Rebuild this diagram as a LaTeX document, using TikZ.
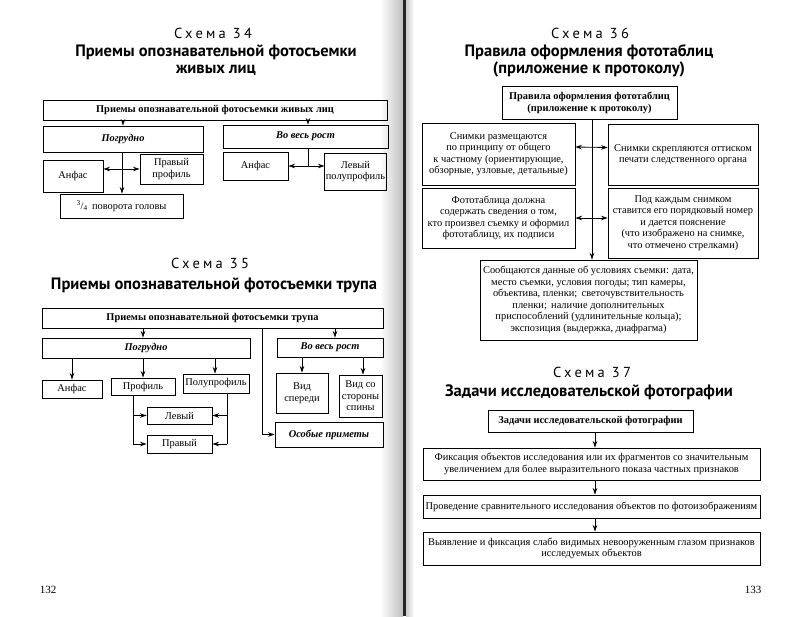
\documentclass[tikz,border=0pt]{standalone}
\usepackage{fontspec}
\setmainfont{Liberation Serif}
\newfontfamily\headfont{PT Sans}
\newfontfamily\schemefont[LetterSpace=22]{PT Sans}
\usepackage{tikz}
\usetikzlibrary{arrows.meta,positioning,shapes}

\begin{document}
\begin{tikzpicture}[
    x=1pt, y=-1pt,
    box/.style={rectangle, draw, line width=0.9pt, inner sep=1pt, align=center, font=\fontsize{10.4}{11.5}\selectfont},
    rootbox/.style={box, font=\fontsize{10.4}{12}\selectfont\bfseries},
    subbox/.style={box, font=\fontsize{10.4}{11.5}\selectfont\bfseries\itshape},
    schemelabel/.style={font=\fontsize{14.5}{16}\selectfont\schemefont},
    title/.style={align=center, font=\fontsize{16.5}{16.5}\selectfont\headfont\bfseries},
    pagenum/.style={font=\fontsize{11}{12}\selectfont},
    arrow/.style={-{Stealth[length=6.5pt,width=4.5pt]}, line width=0.8pt},
    darrow/.style={{Stealth[length=6.5pt,width=4.5pt]}-{Stealth[length=6.5pt,width=4.5pt]}, line width=0.8pt},
    line/.style={line width=0.8pt}
]
\useasboundingbox (0,0) rectangle (800,616);

% Book spine
\shade[left color=white, right color=black!25] (380,0) rectangle (403,616);
\fill[black!85] (403,0) rectangle (406,616);
\shade[left color=black!20, right color=white] (406,0) rectangle (414,616);

% ---------------- Scheme 34 ----------------
\node[schemelabel] (s34) at (213,33) {Схема 34};
\node[title] (t34) at (216,60) {Приемы опознавательной фотосъемки\\живых лиц};

\node[rootbox, minimum width=344, minimum height=20] (r34) at (215,110) {Приемы опознавательной фотосъемки живых лиц};
\node[subbox, minimum width=160, minimum height=26] (pog34) at (123,139) {Погрудно};
\node[subbox, minimum width=165, minimum height=23] (full34) at (305.5,136.5) {Во весь рост};
\node[box, minimum width=60, minimum height=32] (anf34a) at (73,176) {Анфас};
\node[box, minimum width=63, minimum height=30] (prav34) at (171.5,169) {Правый\\профиль};
\node[box, minimum width=123, minimum height=24] (rot34) at (121.5,206) {\textsuperscript{3}/\textsubscript{4}\, поворота головы};
\node[box, minimum width=65, minimum height=28] (anf34b) at (255.5,166) {Анфас};
\node[box, minimum width=55, minimum height=37] (lev34) at (355.5,171.5) {Левый\\полупрофиль};
\coordinate (j34) at (308,166);

\draw[arrow] (r34.south -| 123,0) -- (pog34.north -| 123,0);
\draw[arrow] (r34.south -| 308,0) -- (full34.north -| 308,0);
\draw[arrow] (pog34.south -| 122,0) -- (rot34.north -| 122,0);
\draw[darrow] (anf34a.east |- prav34.west) -- (prav34.west);
\draw[line] (full34.south -| j34) -- (j34);
\draw[darrow] (anf34b.east) -- (anf34b.east -| lev34.west);

% ---------------- Scheme 35 ----------------
\node[schemelabel] (s35) at (210,263) {Схема 35};
\node[title] (t35) at (214,285) {Приемы опознавательной фотосъемки трупа};

\node[rootbox, minimum width=341, minimum height=20] (r35) at (212.5,318) {Приемы опознавательной фотосъемки трупа};
\node[subbox, minimum width=208, minimum height=20] (pog35) at (146,348) {Погрудно};
\node[subbox, minimum width=106, minimum height=19] (full35) at (330,347.5) {Во весь рост};
\node[box, minimum width=60, minimum height=18] (anf35) at (72,389) {Анфас};
\node[box, minimum width=64, minimum height=17] (prof35) at (143,386.5) {Профиль};
\node[box, minimum width=66, minimum height=19] (poly35) at (216,383.5) {Полупрофиль};
\node[box, minimum width=65, minimum height=17] (lev35) at (179.5,415.5) {Левый};
\node[box, minimum width=65, minimum height=18] (prv35) at (179.5,444) {Правый};
\node[box, minimum width=52, minimum height=40] (front35) at (302,393) {Вид\\спереди};
\node[box, minimum width=43, minimum height=42] (back35) at (360.5,396) {Вид со\\стороны\\спины};
\node[subbox, minimum width=108, minimum height=25] (spec35) at (329,434.5) {Особые приметы};
\coordinate (jspec) at (262,434.5);
\coordinate (jprof) at (133,444);
\coordinate (jpoly) at (227,444);

\draw[arrow] (r35.south -| 143,0) -- (pog35.north -| 143,0);
\draw[arrow] (r35.south -| 335,0) -- (full35.north -| 335,0);
\draw[arrow] (r35.south -| jspec) -- (jspec) -- (spec35.west);
\draw[arrow] (pog35.south -| anf35.north) -- (anf35.north);
\draw[arrow] (pog35.south -| prof35.north) -- (prof35.north);
\draw[arrow] (pog35.south -| 215,0) -- (poly35.north -| 215,0);
\draw[line] (prof35.south -| jprof) -- (jprof);
\draw[arrow] (jprof |- lev35.west) -- (lev35.west);
\draw[arrow] (jprof) -- (prv35.west);
\draw[line] (poly35.south -| jpoly) -- (jpoly);
\draw[arrow] (jpoly |- lev35.east) -- (lev35.east);
\draw[arrow] (jpoly) -- (prv35.east);
\draw[arrow] (full35.south -| front35.north) -- (front35.north);
\draw[arrow] (full35.south -| 363,0) -- (back35.north -| 363,0);

\node[pagenum] (p132) at (48,590) {132};

% ---------------- Scheme 36 ----------------
\node[schemelabel] (s36) at (590,33) {Схема 36};
\node[title] (t36) at (589,61) {Правила оформления фототаблиц\\(приложение к протоколу)};

\node[rootbox, minimum width=175, minimum height=33] (r36) at (589.5,102.5) {Правила оформления фототаблиц\\(приложение к протоколу)};
\node[box, minimum width=153, minimum height=62] (a36) at (498.5,154) {Снимки размещаются\\по принципу от общего\\к частному (ориентирующие,\\обзорные, узловые, детальные)};
\node[box, minimum width=150, minimum height=61] (b36) at (683,154.5) {Снимки скрепляются оттиском\\печати следственного органа};
\node[box, minimum width=153, minimum height=60] (c36) at (498.5,218) {Фототаблица должна\\содержать сведения о том,\\кто произвел съемку и оформил\\фототаблицу, их подписи};
\node[box, minimum width=150, minimum height=70] (d36) at (683,223) {Под каждым снимком\\ставится его порядковый номер\\и дается пояснение\\(что изображено на снимке,\\что отмечено стрелками)};
\node[box, minimum width=217, minimum height=80] (e36) at (588.5,300) {Сообщаются данные об условиях съемки: дата,\\место съемки, условия погоды; тип камеры,\\объектива, пленки;\, светочувствительность\\пленки;\, наличие дополнительных\\приспособлений (удлинительные кольца);\\экспозиция (выдержка, диафрагма)};

\draw[arrow] (r36.south -| 592,0) -- (e36.north -| 592,0);
\draw[darrow] ([yshift=7pt]a36.east) -- ([yshift=7pt]b36.west);
\draw[darrow] (c36.east) -- (c36.east -| d36.west);

% ---------------- Scheme 37 ----------------
\node[schemelabel] (s37) at (592,372) {Схема 37};
\node[title] (t37) at (589,392) {Задачи исследовательской фотографии};

\node[rootbox, minimum width=205, minimum height=22] (r37) at (590.5,421) {Задачи исследовательской фотографии};
\node[box, minimum width=337, minimum height=32] (task1) at (591.5,464) {Фиксация объектов исследования или их фрагментов со значительным\\увеличением для более выразительного показа частных признаков};
\node[box, minimum width=337, minimum height=23] (task2) at (591.5,506.5) {Проведение сравнительного исследования объектов по фотоизображениям};
\node[box, minimum width=337, minimum height=33] (task3) at (591.5,548.5) {Выявление и фиксация слабо видимых невооруженным глазом признаков\\исследуемых объектов};

\draw[arrow] (r37.south -| 595,0) -- (task1.north -| 595,0);
\draw[arrow] (task1.south -| 595,0) -- (task2.north -| 595,0);
\draw[arrow] (task2.south -| 595,0) -- (task3.north -| 595,0);

\node[pagenum] (p133) at (753,590) {133};

\end{tikzpicture}
\end{document}
